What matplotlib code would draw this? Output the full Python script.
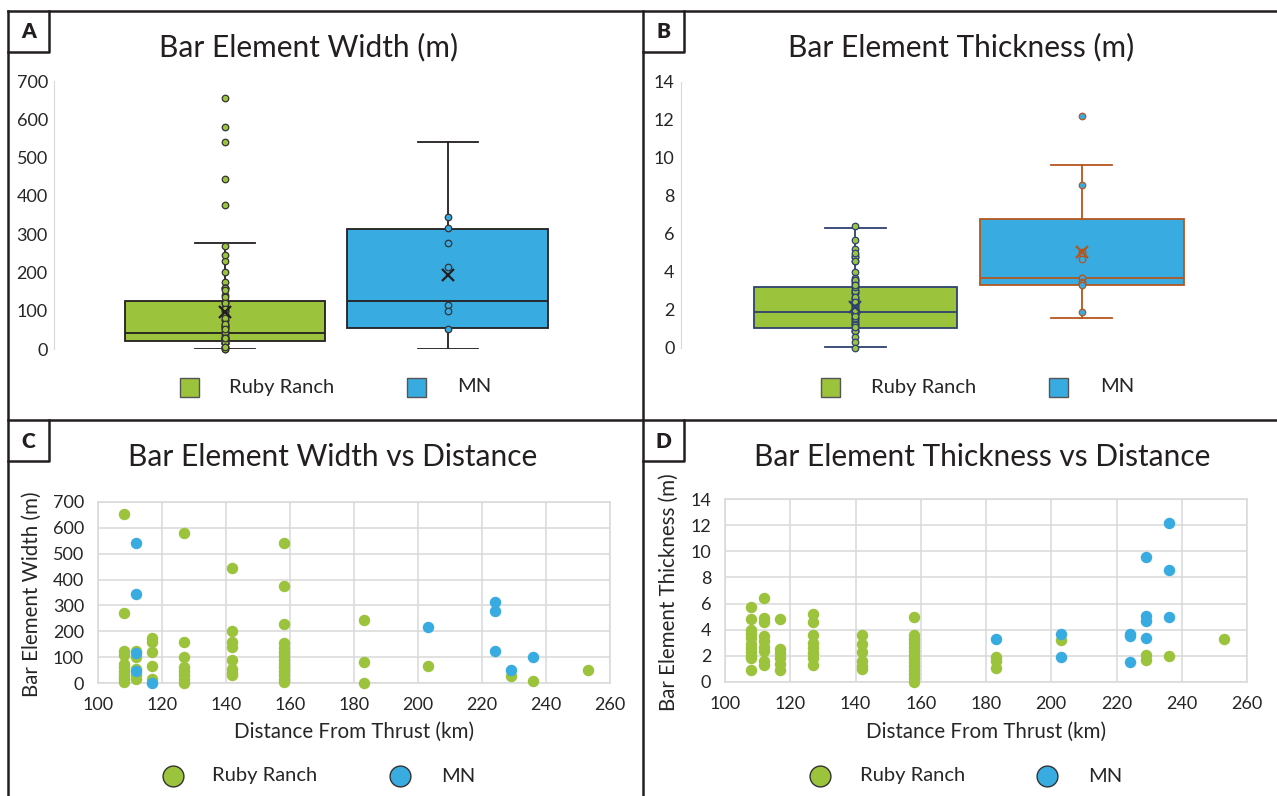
import numpy as np
import matplotlib.pyplot as plt
from matplotlib.patches import Rectangle
from matplotlib.lines import Line2D

plt.rcParams['font.family'] = ['Lato', 'DejaVu Sans']

W, H = 1277, 796
GREEN = '#9BC33C'
BLUE = '#38ABE1'
DARK = '#231F20'
TXT = '#262626'
GRID = '#D9D9D9'
NAVY = '#2E4270'
BROWN = '#B4561E'

groups = ['Ruby Ranch', 'MN']

width_q1 = [20, 56]
width_med = [43, 125]
width_q3 = [125, 314]
width_lo = [0, 0]
width_hi = [277, 540]
width_mean = [97, 194]

thick_q1 = [1.05, 3.32]
thick_med = [1.87, 3.68]
thick_q3 = [3.2, 6.8]
thick_lo = [0.07, 1.6]
thick_hi = [6.3, 9.63]
thick_mean = [2.15, 5.07]

# panel C: width vs distance
rr_w_km = [108, 108, 108, 108, 108, 108, 108, 108, 108, 108, 108,
           112, 112, 112, 112, 112,
           117, 117, 117, 117, 117,
           127, 127, 127, 127, 127, 127, 127, 127,
           142, 142, 142, 142, 142, 142, 142, 142,
           158, 158, 158, 158, 158, 158, 158, 158, 158, 158, 158, 158, 158, 158,
           183, 183, 183, 203, 229, 236, 253]
rr_w_m = [655, 270, 125, 110, 75, 60, 45, 35, 25, 15, 5,
          125, 100, 55, 30, 15,
          175, 160, 120, 65, 15,
          580, 160, 100, 60, 45, 30, 15, 0,
          445, 200, 160, 140, 90, 55, 40, 30,
          540, 375, 230, 155, 135, 120, 105, 90, 75, 60, 45, 30, 15, 5,
          245, 80, 0, 66, 28, 6, 52]
mn_w_km = [112, 112, 112, 112, 117, 203, 224, 224, 224, 229, 236]
mn_w_m = [540, 345, 115, 45, 0, 215, 315, 278, 125, 52, 100]

# panel D: thickness vs distance
rr_t_km = [108, 108, 108, 108, 108, 108, 108, 108, 108, 108, 108,
           112, 112, 112, 112, 112, 112, 112, 112, 112,
           117, 117, 117, 117, 117, 117,
           127, 127, 127, 127, 127, 127, 127, 127,
           142, 142, 142, 142, 142, 142,
           158, 158, 158, 158, 158, 158, 158, 158, 158, 158, 158, 158, 158, 158,
           183, 183, 183, 203, 229, 229, 236, 253]
rr_t_m = [5.7, 4.8, 4.0, 3.7, 3.4, 2.9, 2.6, 2.3, 2.0, 1.8, 0.9,
          6.4, 4.9, 4.6, 3.5, 3.1, 2.7, 2.4, 1.6, 1.3,
          4.8, 2.5, 2.2, 1.8, 1.4, 0.9,
          5.2, 4.6, 3.6, 3.0, 2.6, 2.2, 1.8, 1.3,
          3.6, 2.9, 2.3, 1.6, 1.2, 1.0,
          5.0, 3.6, 3.3, 3.0, 2.7, 2.4, 2.1, 1.8, 1.5, 1.2, 0.9, 0.6, 0.3, 0.0,
          1.9, 1.6, 1.1, 3.2, 2.1, 1.7, 2.0, 3.3]
mn_t_km = [183, 203, 203, 224, 224, 224, 229, 229, 229, 229, 236, 236, 236]
mn_t_m = [3.3, 3.7, 1.9, 3.7, 3.5, 1.55, 9.6, 5.05, 4.7, 3.4, 12.2, 8.6, 5.0]

# MN points shown in the box plots (whisker ends carry no dot)
mn_w_box = [345, 315, 278, 215, 115, 100, 52]
mn_t_box = [12.2, 8.6, 5.05, 5.0, 4.7, 3.7, 3.7, 3.5, 3.4, 3.3, 1.9]

x_ticks = [100, 120, 140, 160, 180, 200, 220, 240, 260]


def fbox(x0, y0, x1, y1):
    return [x0 / W, 1 - y1 / H, (x1 - x0) / W, (y1 - y0) / H]


def fx(x):
    return x / W


def fy(y):
    return 1 - y / H


fig = plt.figure(figsize=(W / 100, H / 100), dpi=100)

# panel frames
for xs, ys in [((8, 1277), (11, 11)), ((8, 8), (11, 796)), ((643, 643), (11, 796)),
               ((8, 1277), (420, 420))]:
    fig.add_artist(Line2D([fx(xs[0]), fx(xs[1])], [fy(ys[0]), fy(ys[1])],
                          color=DARK, lw=1.8, transform=fig.transFigure))
for lab, (x0, y0) in zip('ABCD', [(8, 11), (643, 11), (8, 420), (643, 420)]):
    fig.add_artist(Line2D([fx(x0), fx(x0 + 41), fx(x0 + 41)], [fy(y0 + 41), fy(y0 + 41), fy(y0)],
                          color=DARK, lw=1.8, transform=fig.transFigure))
    fig.text(fx(x0 + 20.5), fy(y0 + 21), lab, ha='center', va='center',
             fontsize=15, fontweight='heavy', color=DARK)


def box_panel(rect, xlim, ylim, yticks, q1, med, q3, lo, hi, mean, pts,
              edges, pt_edges, mean_cols):
    ax = fig.add_axes(fbox(*rect))
    faces = [GREEN, BLUE]
    for i in range(2):
        st = dict(q1=q1[i], med=med[i], q3=q3[i], whislo=lo[i], whishi=hi[i],
                  mean=mean[i], fliers=[], label=groups[i])
        lp = dict(color=edges[i], linewidth=1.3)
        ax.bxp([st], positions=[i + 1], widths=0.9, capwidths=[0.27],
               showmeans=True, showfliers=False, patch_artist=True,
               boxprops=dict(facecolor=faces[i], edgecolor=edges[i], linewidth=1.3),
               medianprops=lp, whiskerprops=lp, capprops=lp,
               meanprops=dict(marker='x', markeredgecolor=mean_cols[i], markersize=9,
                              markeredgewidth=1.6, zorder=6))
        ax.scatter(np.full(len(pts[i]), i + 1), pts[i], s=22, facecolor=faces[i],
                   edgecolor=pt_edges[i], linewidth=0.9, zorder=5, clip_on=False)
    ax.set_xlim(*xlim)
    ax.set_ylim(*ylim)
    ax.set_yticks(yticks)
    ax.set_xticks([])
    for s in ['top', 'right', 'bottom']:
        ax.spines[s].set_visible(False)
    ax.spines['left'].set_color(GRID)
    ax.tick_params(axis='y', length=0, pad=4.5, labelsize=13, labelcolor=TXT)
    return ax


box_panel((54, 81, 618, 349), (0.2315, 2.766), (0, 700), range(0, 701, 100),
          width_q1, width_med, width_q3, width_lo, width_hi, width_mean,
          [rr_w_m, mn_w_box], [DARK, DARK], ['#333333', '#333333'], [DARK, DARK])
box_panel((681, 82, 1256, 348), (0.2296, 2.77), (0, 14), range(0, 15, 2),
          thick_q1, thick_med, thick_q3, thick_lo, thick_hi, thick_mean,
          [rr_t_m, mn_t_box], [NAVY, BROWN], [NAVY, BROWN], [NAVY, BROWN])


def scatter_panel(rect, ylim, yticks, ylabel, ylab_x, data):
    ax = fig.add_axes(fbox(*rect))
    for (xs, ys), c in zip(data, [GREEN, BLUE]):
        ax.scatter(xs, ys, s=68, color=c, linewidth=0, zorder=3, clip_on=False)
    ax.set_xlim(100, 260)
    ax.set_ylim(*ylim)
    ax.set_xticks(x_ticks)
    ax.set_yticks(yticks)
    ax.grid(True, color=GRID, lw=1.1)
    ax.set_axisbelow(True)
    for s in ax.spines.values():
        s.set_color(GRID)
        s.set_linewidth(1.1)
    ax.tick_params(length=0, pad=10, labelsize=13, labelcolor=TXT)
    ax.set_xlabel('Distance From Thrust (km)', fontsize=14.8, color=TXT)
    ax.xaxis.label.set_va('center')
    ax.xaxis.set_label_coords(0.5, -0.27)
    ax.set_ylabel(ylabel, fontsize=14.8, color=TXT)
    ax.yaxis.label.set_va('center')
    ax.yaxis.set_label_coords(ylab_x, 0.49)
    return ax


scatter_panel((98, 502, 610, 683), (0, 700), range(0, 701, 100),
              'Bar Element Width (m)', -0.129,
              [(rr_w_km, rr_w_m), (mn_w_km, mn_w_m)])
scatter_panel((725, 499, 1247, 682), (0, 14), range(0, 15, 2),
              'Bar Element Thickness (m)', -0.108,
              [(rr_t_km, rr_t_m), (mn_t_km, mn_t_m)])

# titles
titles = ['Bar Element Width (m)', 'Bar Element Thickness (m)',
          'Bar Element Width vs Distance', 'Bar Element Thickness vs Distance']
for t, (x, y) in zip(titles, [(309, 47), (961, 47), (333, 457), (982, 457)]):
    fig.text(fx(x), fy(y), t, ha='center', va='center', fontsize=21.5, color=DARK)

# legends: squares for box panels, circles for scatter panels
for sq, tx in [((180, 407), (229, 457)), ((821, 1049), (871, 1100))]:
    for xs, xt, c, g in zip(sq, tx, [GREEN, BLUE], groups):
        fig.add_artist(Rectangle((fx(xs), fy(397)), 19 / W, 19 / H, facecolor=c,
                                 edgecolor='#555555', lw=1, transform=fig.transFigure))
        fig.text(fx(xt), fy(387), g, ha='left', va='center', fontsize=14.5, color=TXT)
for cx, tx in [((173, 400), (212, 441)), ((820, 1047), (860, 1088))]:
    for xc, xt, c, g in zip(cx, tx, [GREEN, BLUE], groups):
        fig.add_artist(Line2D([fx(xc)], [fy(776)], marker='o', markersize=15,
                              markerfacecolor=c, markeredgecolor='#333333', markeredgewidth=1,
                              transform=fig.transFigure))
        fig.text(fx(xt), fy(776), g, ha='left', va='center', fontsize=14.5, color=TXT)

fig.savefig('out.png', dpi=100)
